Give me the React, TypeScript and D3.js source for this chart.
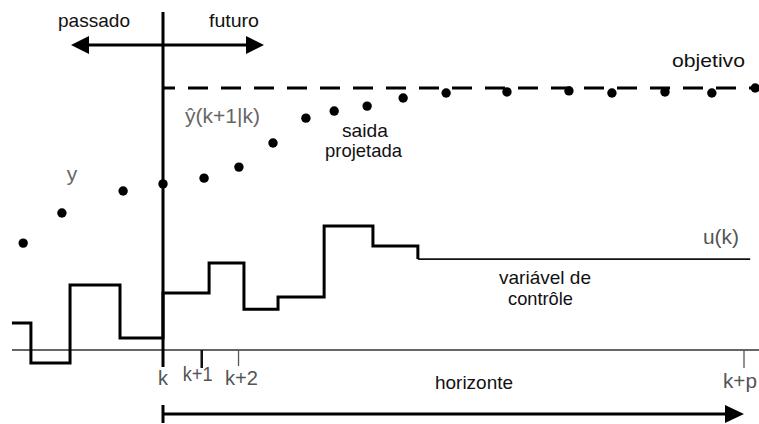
import React from "react";
import * as d3 from "d3";

// Output (y / projected output) samples: time in sample units relative to k, value relative to objective (1)
const outputTimes = [-3.61, -2.61, -1.03, 0, 1.06, 1.96, 2.84, 3.69, 4.42, 5.27, 6.2, 7.31, 8.88, 10.48, 11.59, 12.96, 14.17, 15.29];
const outputValues = [0.408, 0.523, 0.607, 0.634, 0.656, 0.698, 0.79, 0.885, 0.912, 0.931, 0.962, 0.981, 0.985, 0.989, 0.981, 0.985, 0.981, 1.0];

// Control variable u(k), step function
const controlTimes = [-3.9, -3.41, -2.4, -1.11, 0, 1.19, 2.09, 2.97, 4.16, 5.42, 6.58, 15.16];
const controlValues = [0.103, -0.05, 0.248, 0.046, 0.218, 0.332, 0.156, 0.202, 0.473, 0.397, 0.347, 0.347];

const objectiveValue = 1;
const tickTimes = [0, 1, 1.95, 15];
const tickLabels = ["k", "k+1", "k+2", "k+p"];

const W = 759;
const H = 424;
const FONT = "'Liberation Sans', Arial, Helvetica, sans-serif";

export default function App() {
  const x = d3.scaleLinear().domain([0, 15]).range([163, 744]);
  const y = d3.scaleLinear().domain([0, 1]).range([350, 88]);

  const pts = controlTimes.map((t, i) => [t, controlValues[i]] as [number, number]);
  const step = d3
    .line<[number, number]>()
    .x((d) => x(d[0]))
    .y((d) => y(d[1]))
    .curve(d3.curveStepAfter);
  const thickPath = step(pts.slice(0, 11)) || "";
  const thinPath = step(pts.slice(10)) || "";

  const tri = (tipX: number, baseX: number, cy: number, h: number) =>
    `M${tipX},${cy} L${baseX},${cy - h} L${baseX},${cy + h} Z`;

  const labelDx = [0, -4, 3, -4];
  const labelY = [385, 381, 385, 388];
  const labelLen = [10, 30, 33, 34];
  const tickStyle = [
    { w: 3, c: "#000", y2: 367 },
    { w: 2.5, c: "#111", y2: 368 },
    { w: 1.3, c: "#555", y2: 366 },
    { w: 1.3, c: "#555", y2: 368 },
  ];

  const k0 = x(0);

  return (
    <svg
      width={W}
      height={H}
      viewBox={`0 0 ${W} ${H}`}
      style={{ position: "absolute", left: 0, top: 0, background: "#fff" }}
      fontFamily={FONT}
    >
      <rect width={W} height={H} fill="#fff" />

      {/* baseline */}
      <line x1={12} x2={W} y1={y(0)} y2={y(0)} stroke="#333" strokeWidth={1.6} />

      {/* objective dashed line */}
      <line
        x1={k0}
        x2={W}
        y1={y(objectiveValue)}
        y2={y(objectiveValue)}
        stroke="#000"
        strokeWidth={3}
        strokeDasharray="20 13"
        strokeDashoffset={8}
      />

      {/* vertical k line */}
      <line x1={k0} x2={k0} y1={12} y2={y(0)} stroke="#000" strokeWidth={3} />

      {/* ticks */}
      {tickTimes.map((t, i) => (
        <line
          key={"t" + i}
          x1={x(t)}
          x2={x(t)}
          y1={y(0)}
          y2={tickStyle[i].y2}
          stroke={tickStyle[i].c}
          strokeWidth={tickStyle[i].w}
        />
      ))}
      {tickLabels.map((s, i) => (
        <text
          key={"l" + i}
          x={x(tickTimes[i]) + labelDx[i] - labelLen[i] / 2}
          y={labelY[i]}
          fontSize={20}
          textLength={labelLen[i]}
          lengthAdjust="spacingAndGlyphs"
          fill="#555"
        >
          {s}
        </text>
      ))}

      {/* passado / futuro arrow */}
      <line x1={80} x2={255} y1={45} y2={45} stroke="#000" strokeWidth={3} />
      <path d={tri(71, 89, 45, 9)} fill="#000" />
      <path d={tri(264, 246, 45, 9)} fill="#000" />
      <text x={58} y={27} fontSize={19} textLength={72} lengthAdjust="spacingAndGlyphs" fill="#111">
        passado
      </text>
      <text x={209} y={27} fontSize={19} textLength={50} lengthAdjust="spacingAndGlyphs" fill="#111">
        futuro
      </text>

      {/* horizon arrow */}
      <line x1={k0} x2={730} y1={414} y2={414} stroke="#000" strokeWidth={3} />
      <line x1={k0} x2={k0} y1={405} y2={423} stroke="#000" strokeWidth={3} />
      <path d={tri(744, 725, 414, 9)} fill="#000" />
      <text x={435} y={389} fontSize={19} textLength={78} lengthAdjust="spacingAndGlyphs" fill="#111">
        horizonte
      </text>

      {/* control variable steps */}
      <path d={thickPath} fill="none" stroke="#000" strokeWidth={3} strokeLinejoin="miter" />
      <path d={thinPath} fill="none" stroke="#111" strokeWidth={1.6} />

      {/* output dots */}
      {outputTimes.map((t, i) => (
        <circle key={"d" + i} cx={x(t)} cy={y(outputValues[i])} r={4.7} fill="#000" />
      ))}

      {/* labels */}
      <text x={672} y={67} fontSize={19} textLength={73} lengthAdjust="spacingAndGlyphs" fill="#111">
        objetivo
      </text>
      <text x={185} y={123} fontSize={20} textLength={75} lengthAdjust="spacingAndGlyphs" fill="#666">
        ŷ(k+1|k)
      </text>
      <text x={342} y={137} fontSize={19} textLength={46} lengthAdjust="spacingAndGlyphs" fill="#111">
        saida
      </text>
      <text x={325} y={157} fontSize={19} textLength={77} lengthAdjust="spacingAndGlyphs" fill="#111">
        projetada
      </text>
      <text x={72} y={181} fontSize={21} textAnchor="middle" fill="#666">
        y
      </text>
      <text x={703} y={244} fontSize={20} textLength={36} lengthAdjust="spacingAndGlyphs" fill="#555">
        u(k)
      </text>
      <text x={499} y={284} fontSize={19} textLength={92} lengthAdjust="spacingAndGlyphs" fill="#111">
        variável de
      </text>
      <text x={508} y={305} fontSize={19} textLength={65} lengthAdjust="spacingAndGlyphs" fill="#111">
        contrôle
      </text>
    </svg>
  );
}
